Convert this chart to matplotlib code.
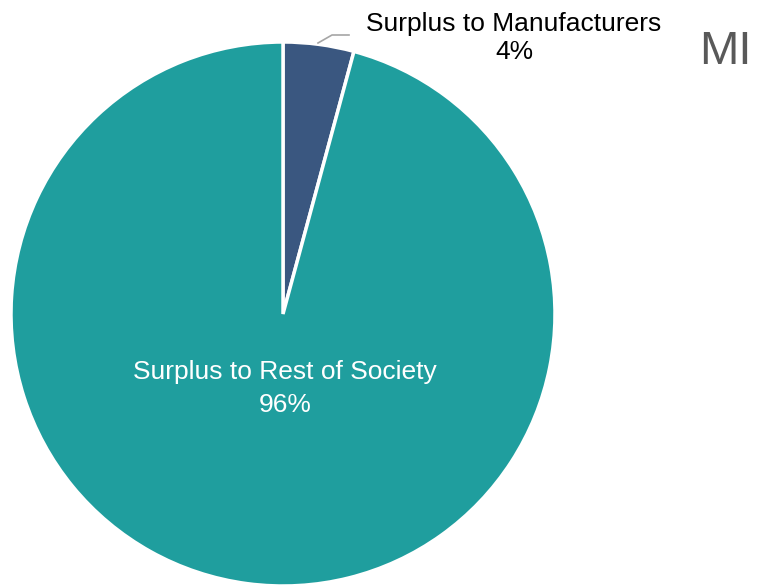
import matplotlib.pyplot as plt

labels = ["Surplus to Manufacturers", "Surplus to Rest of Society"]
shares = [4.2, 95.8]
pct_labels = ["4%", "96%"]
colors = ["#3A5780", "#1F9E9E"]

plt.rcParams["font.family"] = ["Liberation Sans", "DejaVu Sans"]

W, H = 757, 588
fig = plt.figure(figsize=(W / 100, H / 100), dpi=100)
cx, cy, r = 283, 314, 272
ax = fig.add_axes([(cx - r) / W, (H - cy - r) / H, 2 * r / W, 2 * r / H])

wedges, _ = ax.pie(shares, colors=colors, startangle=90, counterclock=False,
                   radius=1, wedgeprops=dict(edgecolor="white", linewidth=2.5))
ax.set_xlim(-1, 1)
ax.set_ylim(-1, 1)
ax.set_aspect("equal")
ax.axis("off")


def to_ax(px, py):
    return ((px - cx) / r, (cy - py) / r)


# inside label
ix, iy = to_ax(285, 388.5)
ax.text(ix, iy, f"{labels[1]}\n{pct_labels[1]}", ha="center", va="center",
        color="white", fontsize=19, linespacing=1.5)

# outside label with leader line
p0, p1, p2 = to_ax(318, 43), to_ax(332, 35), to_ax(349, 35)
ax.plot([p0[0], p1[0], p2[0]], [p0[1], p1[1], p2[1]], color="#A6A6A6", lw=1.2,
        clip_on=False)
lx, ly = to_ax(514, 38)
ax.text(lx, ly, f"{labels[0]}\n{pct_labels[0]}", ha="center", va="center",
        color="black", fontsize=19, linespacing=1.2, clip_on=False)

fig.text(725 / W, 1 - 52 / H, "MI", ha="center", va="center", color="#595959",
         fontsize=34)

fig.savefig("out.png", dpi=100)
